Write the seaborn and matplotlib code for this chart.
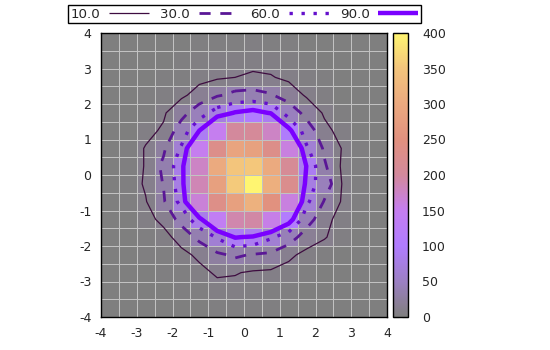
import numpy as np
import pandas as pd
import matplotlib
matplotlib.use("Agg")
import matplotlib.pyplot as plt
from matplotlib.colors import LinearSegmentedColormap
from matplotlib.lines import Line2D
import seaborn as sns

# cell centres along x (left to right) and y (top to bottom)
x_centers = [-3.75, -3.25, -2.75, -2.25, -1.75, -1.25, -0.75, -0.25,
             0.25, 0.75, 1.25, 1.75, 2.25, 2.75, 3.25, 3.75]
y_centers = [3.75, 3.25, 2.75, 2.25, 1.75, 1.25, 0.75, 0.25,
             -0.25, -0.75, -1.25, -1.75, -2.25, -2.75, -3.25, -3.75]

# cell values, one list per row, from top (y=3.75) to bottom (y=-3.75)
row_y_3_75 = [0, 0, 0, 1, 1, 2, 3, 3, 4, 3, 2, 1, 0, 0, 0, 0]
row_y_3_25 = [0, 0, 1, 1, 2, 4, 5, 5, 6, 5, 4, 2, 1, 0, 0, 0]
row_y_2_75 = [0, 0, 1, 2, 3, 6, 8, 10, 12, 11, 7, 4, 2, 1, 0, 0]
row_y_2_25 = [0, 1, 2, 4, 7, 16, 27, 36, 38, 32, 19, 8, 4, 1, 0, 0]
row_y_1_75 = [0, 1, 3, 8, 22, 44, 74, 92, 100, 88, 46, 22, 8, 3, 1, 0]
row_y_1_25 = [0, 1, 6, 12, 42, 90, 150, 200, 205, 175, 98, 44, 14, 5, 1, 0]
row_y_0_75 = [0, 2, 11, 26, 64, 150, 230, 290, 282, 232, 160, 64, 26, 9, 2, 0]
row_y_0_25 = [0, 2, 11, 35, 80, 175, 300, 350, 352, 300, 210, 88, 33, 7, 2, 0]
row_y_m0_25 = [0, 2, 12, 31, 78, 185, 280, 355, 400, 310, 225, 76, 44, 9, 2, 0]
row_y_m0_75 = [0, 2, 9, 27, 70, 165, 235, 280, 315, 250, 160, 66, 28, 8, 2, 0]
row_y_m1_25 = [0, 1, 5, 14, 38, 82, 140, 190, 195, 155, 105, 42, 14, 5, 1, 0]
row_y_m1_75 = [0, 1, 3, 5, 16, 36, 63, 92, 86, 64, 42, 18, 11, 4, 1, 0]
row_y_m2_25 = [0, 0, 2, 3, 6, 13, 25, 34, 28, 25, 13, 6, 3, 1, 0, 0]
row_y_m2_75 = [0, 0, 1, 2, 3, 6, 12, 11, 8, 7, 5, 3, 1, 0, 0, 0]
row_y_m3_25 = [0, 0, 0, 1, 2, 3, 5, 5, 4, 3, 2, 1, 0, 0, 0, 0]
row_y_m3_75 = [0, 0, 0, 0, 1, 1, 3, 3, 3, 2, 1, 0, 0, 0, 0, 0]

axis_tick_labels = [-4, -3, -2, -1, 0, 1, 2, 3, 4]
cbar_ticks = [0, 50, 100, 150, 200, 250, 300, 350, 400]
contour_levels = [10.0, 30.0, 60.0, 90.0]

rows = [row_y_3_75, row_y_3_25, row_y_2_75, row_y_2_25, row_y_1_75, row_y_1_25,
        row_y_0_75, row_y_0_25, row_y_m0_25, row_y_m0_75, row_y_m1_25, row_y_m1_75,
        row_y_m2_25, row_y_m2_75, row_y_m3_25, row_y_m3_75]
df = pd.DataFrame(rows, index=y_centers, columns=x_centers, dtype=float)

sns.set_theme(style="white")
plt.rcParams["font.family"] = ["DejaVu Sans"]
plt.rcParams["font.size"] = 9

cmap = LinearSegmentedColormap.from_list(
    "gp",
    [(0.0, "#7f7f7f"), (0.03, "#877f8e"), (0.0625, "#8e7fa0"), (0.125, "#9c80c4"),
     (0.25, "#b07cff"), (0.375, "#c57ef0"), (0.5, "#d3899c"), (0.625, "#e1917f"),
     (0.75, "#eba97f"), (0.875, "#f3c47c"), (1.0, "#fff571")])

fig = plt.figure(figsize=(5.5, 3.5), dpi=100)
W, H = 550.0, 350.0
ax = fig.add_axes([101 / W, 1 - 317 / H, 286 / W, 284 / H])
cax = fig.add_axes([393 / W, 1 - 317 / H, 15 / W, 284 / H])

sns.heatmap(df, ax=ax, cbar_ax=cax, cmap=cmap, vmin=0, vmax=400,
            linewidths=0.65, linecolor="#c2c2c2", xticklabels=False, yticklabels=False,
            cbar_kws={"ticks": cbar_ticks})

# contours in heatmap index coordinates (cell centres at i+0.5)
n = len(x_centers)
xi = np.arange(n) + 0.5
yi = np.arange(len(y_centers)) + 0.5
Z = df.values
styles = [
    dict(color="#3e0c40", lw=0.9, ls="solid"),
    dict(color="#5a1796", lw=2.0, ls=(0, (4.0, 3.5))),
    dict(color="#6410cc", lw=2.4, ls=(0, (1.0, 2.6))),
    dict(color="#7a00ff", lw=3.2, ls="solid"),
]
handles = []
for lev, st in zip(contour_levels, styles):
    cs = ax.contour(xi, yi, Z, levels=[lev], colors=[st["color"]], linewidths=st["lw"])
    cs.set_linestyle(st["ls"])
    cs.set_capstyle("butt")
    handles.append(Line2D([], [], color=st["color"], lw=st["lw"], ls=st["ls"],
                          solid_capstyle="butt", dash_capstyle="butt"))

# axis ticks: data range -4..4 mapped to index 0..16
step = n / (axis_tick_labels[-1] - axis_tick_labels[0])
ax.set_xticks([(v - axis_tick_labels[0]) * step for v in axis_tick_labels])
ax.set_xticklabels([str(v) for v in axis_tick_labels])
ax.set_yticks([(axis_tick_labels[-1] - v) * step for v in axis_tick_labels])
ax.set_yticklabels([str(v) for v in axis_tick_labels])
ax.tick_params(axis="x", length=0, pad=7, labelsize=9, rotation=0)
ax.tick_params(axis="y", length=0, pad=7, labelsize=9, rotation=0)
ax.set_xlabel("")
ax.set_ylabel("")
for sp in ax.spines.values():
    sp.set_visible(True)
    sp.set_color("black")
    sp.set_linewidth(1.0)

cb = ax.collections[0].colorbar
cb.outline.set_visible(True)
cb.outline.set_edgecolor("black")
cb.outline.set_linewidth(1.0)
cax.tick_params(direction="in", length=4, width=0.8, left=True, right=True,
                labelleft=False, labelright=True, pad=10, labelsize=9, color="black")

fig.legend(handles, [f"{v:.1f}" for v in contour_levels], loc="upper left",
           bbox_to_anchor=(68 / W, 1 - 5 / H), ncol=4, markerfirst=False,
           frameon=True, fancybox=False, edgecolor="black", framealpha=1,
           handlelength=3.0, handletextpad=0.65, columnspacing=0.85,
           borderpad=0.2, borderaxespad=0, fontsize=9.6)
fig.legends[0].get_frame().set_linewidth(1.0)

fig.savefig("out.png", dpi=100)
